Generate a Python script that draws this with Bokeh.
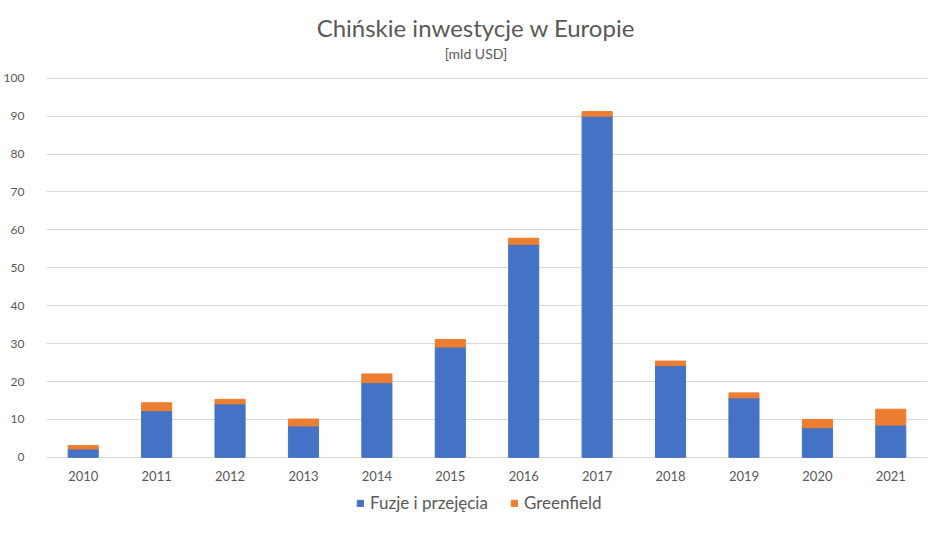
from bokeh.plotting import figure
from bokeh.models import Legend, LegendItem, Label
from bokeh.core.properties import value
from bokeh.embed import file_html
from bokeh.resources import INLINE

years = ["2010", "2011", "2012", "2013", "2014", "2015", "2016", "2017", "2018", "2019", "2020", "2021"]
fuzje = [2.2, 12.3, 14.1, 8.3, 19.7, 29.1, 56.2, 90.0, 24.2, 15.7, 7.8, 8.5]
greenfield = [0.9, 2.1, 1.2, 1.8, 2.3, 2.0, 1.6, 1.2, 1.2, 1.3, 2.2, 4.2]
series_labels = ["Fuzje i przejęcia", "Greenfield"]
colors = ["#4472C4", "#ED7D31"]
y_ticks = [0, 10, 20, 30, 40, 50, 60, 70, 80, 90, 100]
title_text = "Chińskie inwestycje w Europie"
subtitle_text = "[mld USD]"

FONT = "Lato"
TXT = "#595959"
GRID = "#D9D9D9"

totals = [a + b for a, b in zip(fuzje, greenfield)]

# layout constants (value-space positions of the texts drawn inside the frame)
Y_LO, Y_HI = -14.81, 119.18
TITLE_X, TITLE_Y, SUB_Y = 5.85, 113.5, 106.6
XLABEL_Y = -5.0

p = figure(x_range=years, y_range=(Y_LO, Y_HI), title=None, x_axis_location=None,
           width=932, height=518, output_backend="svg", toolbar_location=None)
p.outline_line_color = None

r1 = p.vbar(x=years, bottom=0, top=fuzje, width=0.41, color=colors[0])
r2 = p.vbar(x=years, bottom=fuzje, top=totals, width=0.41, color=colors[1])

p.xgrid.grid_line_color = None
p.ygrid.grid_line_color = GRID
p.ygrid.ticker = y_ticks

p.yaxis.ticker = y_ticks
p.yaxis.axis_line_color = None
p.yaxis.major_tick_line_color = None
p.yaxis.minor_tick_line_color = None
p.yaxis.major_tick_out = 0
p.yaxis.major_tick_in = 0
p.yaxis.major_label_standoff = 22
p.yaxis.major_label_text_font = FONT
p.yaxis.major_label_text_font_size = "12px"
p.yaxis.major_label_text_color = TXT

p.text(x=years, y=XLABEL_Y, text=years, text_align="center", text_baseline="middle",
       text_font=value(FONT), text_font_size="13px", text_color=TXT)

legend = Legend(items=[LegendItem(label=series_labels[0], renderers=[r1]),
                       LegendItem(label=series_labels[1], renderers=[r2])],
                orientation="horizontal", location=(310, 0),
                glyph_width=8, glyph_height=8, label_standoff=6, spacing=22,
                padding=0, margin=0, border_line_color=None, background_fill_alpha=0,
                label_text_font=FONT, label_text_font_size="17px", label_text_color=TXT)
p.add_layout(legend)

p.add_layout(Label(x=TITLE_X, y=TITLE_Y, text=title_text, text_align="center",
                   text_baseline="middle", text_font=FONT, text_font_size="24px", text_color=TXT))
p.add_layout(Label(x=TITLE_X, y=SUB_Y, text=subtitle_text, text_align="center",
                   text_baseline="middle", text_font=FONT, text_font_size="14px", text_color=TXT))

open("out.html", "w").write(file_html(p, INLINE))
